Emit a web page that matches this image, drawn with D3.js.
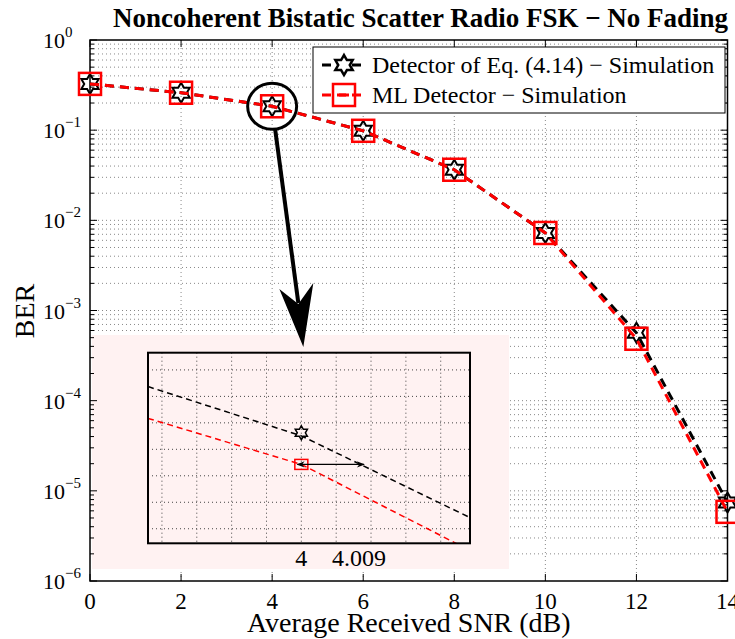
<!DOCTYPE html>
<html>
<head>
<meta charset="utf-8">
<script src="https://cdn.jsdelivr.net/npm/d3@7"></script>
<style>
  body { margin: 0; background: #fff; }
  svg text { font-family: "Liberation Serif", "Times New Roman", Times, serif; fill: #000; }
</style>
</head>
<body>
<svg id="chart"></svg>
<script>
// data
const snr = [0, 2, 4, 6, 8, 10, 12, 14];
const berEq = [0.326, 0.26, 0.184, 0.0984, 0.0364, 0.00724, 5.66e-4, 7.43e-6];
const berML = [0.326, 0.26, 0.184, 0.0984, 0.0364, 0.00724, 4.86e-4, 5.85e-6];
const xTicks = [0, 2, 4, 6, 8, 10, 12, 14];
const yDecades = [-6, -5, -4, -3, -2, -1, 0];

// zoomed inset around SNR = 4 dB
const insetSnr = [3.978, 4, 4.0242];
const insetEq = [0.186537, 0.186351, 0.186042];
const insetML = [0.186417, 0.186243, 0.185918];
const insetTickLabels = [4, 4.009];

const width = 735, height = 639;
const serif = '"Liberation Serif", "Times New Roman", Times, serif';
const svg = d3.select("#chart").attr("width", width).attr("height", height).attr("font-family", serif);
svg.append("rect").attr("width", width).attr("height", height).attr("fill", "#fff");

const x = d3.scaleLinear().domain([0, 14]).range([90, 727.5]);
const y = d3.scaleLog().domain([1e-6, 1]).range([581, 40]);

// minor + major log values
let logVals = [];
yDecades.slice(0, -1).forEach(e => {
  for (let k = 1; k <= 9; k++) logVals.push(k * Math.pow(10, e));
});
logVals.push(1);

// grid
const grid = svg.append("g").attr("stroke", "#888").attr("stroke-width", 1).attr("stroke-dasharray", "1,3");
grid.selectAll(".gx").data(xTicks.slice(1, -1)).enter().append("line")
  .attr("x1", d => x(d)).attr("x2", d => x(d)).attr("y1", y(1)).attr("y2", y(1e-6));
grid.selectAll(".gy").data(logVals.filter(v => v > 1e-6 && v < 1)).enter().append("line")
  .attr("x1", x(0)).attr("x2", x(14)).attr("y1", d => y(d)).attr("y2", d => y(d));

// inset background
svg.append("rect").attr("x", 92).attr("y", 335).attr("width", 417).attr("height", 234).attr("fill", "#fff2f2");

// ticks
const ticks = svg.append("g").attr("stroke", "#000").attr("stroke-width", 1);
xTicks.forEach(t => {
  ticks.append("line").attr("x1", x(t)).attr("x2", x(t)).attr("y1", y(1e-6)).attr("y2", y(1e-6) - 7);
  ticks.append("line").attr("x1", x(t)).attr("x2", x(t)).attr("y1", y(1)).attr("y2", y(1) + 7);
});
logVals.forEach(v => {
  const major = Math.abs(Math.log10(v) - Math.round(Math.log10(v))) < 1e-9;
  const len = major ? 7 : 4;
  ticks.append("line").attr("x1", x(0)).attr("x2", x(0) + len).attr("y1", y(v)).attr("y2", y(v));
  ticks.append("line").attr("x1", x(14)).attr("x2", x(14) - len).attr("y1", y(v)).attr("y2", y(v));
});
svg.append("rect").attr("x", x(0)).attr("y", y(1)).attr("width", x(14) - x(0)).attr("height", y(1e-6) - y(1))
  .attr("fill", "none").attr("stroke", "#000").attr("stroke-width", 1.5);

// tick labels
svg.selectAll(".xl").data(xTicks).enter().append("text")
  .attr("x", d => x(d)).attr("y", 609).attr("text-anchor", "middle").style("font-size", "23px").text(d => d);
yDecades.forEach(e => {
  const t = svg.append("text").attr("x", 43).attr("y", y(Math.pow(10, e)) + 8).style("font-size", "22px");
  t.append("tspan").text("10");
  t.append("tspan").attr("dy", -11).style("font-size", "15px").text(e < 0 ? "\u2212" + (-e) : e);
});

// axis titles
svg.append("text").attr("x", (x(0) + x(14)) / 2).attr("y", 632).attr("text-anchor", "middle")
  .style("font-size", "28px").text("Average Received SNR (dB)");
svg.append("text").attr("transform", "translate(34,311) rotate(-90)").attr("text-anchor", "middle")
  .style("font-size", "28px").text("BER");
svg.append("text").attr("x", 113).attr("y", 27).style("font-size", "27px").style("font-weight", "bold")
  .text("Noncoherent Bistatic Scatter Radio FSK \u2212 No Fading");

// markers
function hexagram(cx, cy, R) {
  const r = R / Math.sqrt(3);
  const pts = [];
  for (let i = 0; i < 12; i++) {
    const a = -Math.PI / 2 + i * Math.PI / 6;
    const rr = i % 2 === 0 ? R : r;
    pts.push([cx + rr * Math.cos(a), cy + rr * Math.sin(a)]);
  }
  return "M" + pts.map(p => p.join(",")).join("L") + "Z";
}

const line = d3.line().x(d => x(d[0])).y(d => y(d[1]));

// Eq. (4.14) series
svg.append("path").datum(snr.map((s, i) => [s, berEq[i]])).attr("d", line)
  .attr("fill", "none").attr("stroke", "#000").attr("stroke-width", 3).attr("stroke-dasharray", "9,6");
svg.selectAll(".star").data(snr).enter().append("path")
  .attr("d", (s, i) => hexagram(x(s), y(berEq[i]), 10))
  .attr("fill", "none").attr("stroke", "#000").attr("stroke-width", 2);

// ML series
svg.append("path").datum(snr.map((s, i) => [s, berML[i]])).attr("d", line)
  .attr("fill", "none").attr("stroke", "#f00").attr("stroke-width", 3).attr("stroke-dasharray", "9,6");
svg.selectAll(".sq").data(snr).enter().append("rect")
  .attr("x", s => x(s) - 11).attr("y", (s, i) => y(berML[i]) - 11).attr("width", 22).attr("height", 22)
  .attr("fill", "none").attr("stroke", "#f00").attr("stroke-width", 2.5);

// legend
const lg = svg.append("g");
lg.append("rect").attr("x", 313).attr("y", 47).attr("width", 412).attr("height", 66)
  .attr("fill", "#fff").attr("stroke", "#000").attr("stroke-width", 1);
const legendItems = [
  { label: "Detector of Eq. (4.14) \u2212 Simulation", color: "#000", marker: "star" },
  { label: "ML Detector \u2212 Simulation", color: "#f00", marker: "sq" }
];
legendItems.forEach((it, i) => {
  const ly = 65 + i * 30;
  lg.append("line").attr("x1", 322).attr("x2", 367).attr("y1", ly).attr("y2", ly)
    .attr("stroke", it.color).attr("stroke-width", 3).attr("stroke-dasharray", "9,6");
  if (it.marker === "star") {
    lg.append("path").attr("d", hexagram(344, ly, 10)).attr("fill", "#fff").attr("stroke", "#000").attr("stroke-width", 2.5);
  } else {
    lg.append("rect").attr("x", 333).attr("y", ly - 11).attr("width", 22).attr("height", 22)
      .attr("fill", "none").attr("stroke", "#f00").attr("stroke-width", 2.5);
    lg.append("line").attr("x1", 339).attr("x2", 349).attr("y1", ly).attr("y2", ly).attr("stroke", "#f00").attr("stroke-width", 3);
  }
  lg.append("text").attr("x", 372).attr("y", ly + 8).style("font-size", "24px").text(it.label);
});

// inset axes
const ix = d3.scaleLinear().domain([3.978, 4.0242]).range([148, 470]);
const iy = d3.scaleLinear().domain([0.185945, 0.186665]).range([543.3, 352.7]);
const inset = svg.append("g");
svg.append("defs").append("clipPath").attr("id", "insetClip").append("rect")
  .attr("x", 148).attr("y", 352.7).attr("width", 322).attr("height", 190.6);
const ig = inset.append("g").attr("stroke", "#444").attr("stroke-width", 1).attr("stroke-dasharray", "1,3");
ig.selectAll("line.vx").data(d3.range(3.98, 4.0241, 0.005)).enter().append("line")
  .attr("x1", d => ix(d)).attr("x2", d => ix(d)).attr("y1", 352.7).attr("y2", 543.3);
ig.selectAll("line.hy").data(d3.range(0.1860, 0.18665, 0.0001)).enter().append("line")
  .attr("x1", 148).attr("x2", 470).attr("y1", d => iy(d)).attr("y2", d => iy(d));

const iline = d3.line().x(d => ix(d[0])).y(d => iy(d[1]));
const ic = inset.append("g").attr("clip-path", "url(#insetClip)");
ic.append("path").datum(insetSnr.map((s, i) => [s, insetEq[i]])).attr("d", iline)
  .attr("fill", "none").attr("stroke", "#000").attr("stroke-width", 1.5).attr("stroke-dasharray", "6,4");
ic.append("path").datum(insetSnr.map((s, i) => [s, insetML[i]])).attr("d", iline)
  .attr("fill", "none").attr("stroke", "#f00").attr("stroke-width", 1.5).attr("stroke-dasharray", "6,4");
inset.append("path").attr("d", hexagram(ix(4), iy(insetEq[1]) - 3, 7))
  .attr("fill", "none").attr("stroke", "#000").attr("stroke-width", 1.5);
inset.append("rect").attr("x", ix(4) - 6.5).attr("y", iy(insetML[1]) - 5).attr("width", 13).attr("height", 10)
  .attr("fill", "none").attr("stroke", "#f00").attr("stroke-width", 1.5);

// double arrow between 4 and 4.009
const defs = svg.select("defs");
defs.append("marker").attr("id", "ah").attr("viewBox", "0 0 10 10").attr("refX", 9).attr("refY", 5)
  .attr("markerWidth", 9).attr("markerHeight", 8).attr("markerUnits", "userSpaceOnUse").attr("orient", "auto-start-reverse")
  .append("path").attr("d", "M0,1L10,5L0,9L3,5Z").attr("fill", "#000");
inset.append("line").attr("x1", ix(4) - 4).attr("x2", ix(4.009)).attr("y1", iy(insetML[1])).attr("y2", iy(insetML[1]))
  .attr("stroke", "#000").attr("stroke-width", 1.2)
  .attr("marker-start", "url(#ah)").attr("marker-end", "url(#ah)");

inset.append("rect").attr("x", 148).attr("y", 352.7).attr("width", 322).attr("height", 190.6)
  .attr("fill", "none").attr("stroke", "#000").attr("stroke-width", 2);
inset.selectAll(".itl").data(insetTickLabels).enter().append("text")
  .attr("x", d => ix(d) - (d === 4 ? 0 : 5)).attr("y", 566).attr("text-anchor", "middle").style("font-size", "24px").text(d => d);

// callout: ellipse round the 4 dB point and arrow down to the inset
const cx = x(4), cy = y(berEq[2]);
svg.append("ellipse").attr("cx", cx).attr("cy", cy).attr("rx", 24.5).attr("ry", 23)
  .attr("fill", "none").attr("stroke", "#000").attr("stroke-width", 3);
const tip = [ix(4) + 2, 347];
const start = [cx + 3, cy + 23];
svg.append("line").attr("x1", start[0]).attr("y1", start[1]).attr("x2", tip[0] - 5).attr("y2", tip[1] - 44)
  .attr("stroke", "#000").attr("stroke-width", 4);
svg.append("path")
  .attr("d", `M${tip[0]},${tip[1]}L${tip[0] - 24},${tip[1] - 58}L${tip[0] - 5},${tip[1] - 43}L${tip[0] + 10},${tip[1] - 64}Z`)
  .attr("fill", "#000");
</script>
</body>
</html>
